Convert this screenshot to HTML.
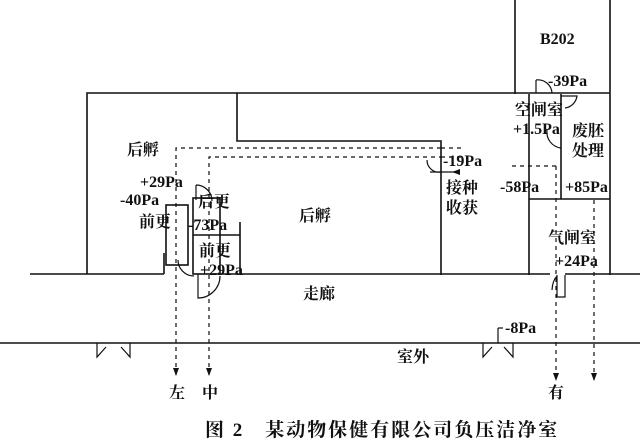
<!DOCTYPE html>
<html><head><meta charset="utf-8"><style>
html,body{margin:0;padding:0;background:#fff;width:640px;height:443px;overflow:hidden}
svg text{font-family:"Liberation Serif","Noto Serif CJK SC",serif;fill:#111;font-weight:bold}
</style></head><body>
<svg width="640" height="443" viewBox="0 0 640 443" xmlns="http://www.w3.org/2000/svg">
<g stroke="#111" stroke-width="1.6" fill="none">
<line x1="515" y1="0" x2="515" y2="94"/>
<line x1="610" y1="0" x2="610" y2="275"/>
<polyline points="87,274 87,93 610,93"/>
<polyline points="237,93 237,141 441,141 441,275"/>
<line x1="529" y1="94" x2="529" y2="275"/>
<line x1="561" y1="94" x2="561" y2="199"/>
<line x1="529" y1="199" x2="610" y2="199"/>
<line x1="30" y1="274" x2="164" y2="274"/>
<line x1="164" y1="274" x2="164" y2="253"/>
<line x1="218" y1="274" x2="550" y2="274"/>
<line x1="565" y1="274" x2="640" y2="274"/>
<rect x="166" y="205" width="22" height="60"/>
<rect x="193" y="198" width="27" height="76"/>
<line x1="193" y1="235" x2="240" y2="235"/>
<line x1="240" y1="222" x2="240" y2="274"/>
<line x1="0" y1="343" x2="640" y2="343"/>
</g>
<g stroke="#111" stroke-width="1.2" fill="none">
<path d="M97 343 V357 L106 347 M130 343 V357 L121 347"/>
<path d="M483 343 V357 L492 347 M513 343 V357 L504 347"/>
<path d="M198 274 V298 A22 22 0 0 0 220 276"/>
<path d="M557 275 V297 H565 V275 M557 276 A10 18 0 0 0 552 290"/>
<path d="M178 260 A16 16 0 0 0 194 276"/>
<path d="M196 185 V200 M196 185 A16 16 0 0 1 212 201"/>
<path d="M427 160 A12 12 0 0 0 441 172"/>
<path d="M536 80 V93 M536 80 A14 14 0 0 1 552 93"/>
<path d="M547 130 A16 16 0 0 0 561 148"/>
<path d="M561 96 H577 A14 14 0 0 1 565 108"/>
<line x1="498" y1="343" x2="498" y2="328"/><line x1="498" y1="328" x2="503" y2="328"/>
</g>
<g stroke="#111" stroke-width="1.2" fill="none" stroke-dasharray="4,4">
<polyline points="176,375 176,148 441,148"/>
<polyline points="209,375 209,157 441,157"/>
<line x1="441" y1="148" x2="465" y2="148"/>
<line x1="441" y1="157" x2="465" y2="157"/>
<line x1="512" y1="166" x2="557" y2="166"/>
<line x1="556" y1="166" x2="556" y2="380"/>
<line x1="594" y1="200" x2="594" y2="380"/>
</g>
<g fill="#111">
<polygon points="173,368 179,368 176,376"/>
<polygon points="206,368 212,368 209,376"/>
<polygon points="553,373 559,373 556,381"/>
<polygon points="591,373 597,373 594,381"/>
<polygon points="452,172 460,169 460,175"/>
</g>
<line x1="430" y1="172" x2="455" y2="172" stroke="#111" stroke-width="1.2"/>
<g font-size="16">
<text x="540" y="44">B202</text>
<text x="548" y="86">-39Pa</text>
<text x="515" y="115">空闸室</text>
<text x="513" y="134">+1.5Pa</text>
<text x="572" y="136">废胚</text>
<text x="572" y="156">处理</text>
<text x="443" y="166">-19Pa</text>
<text x="446" y="193">接种</text>
<text x="446" y="213">收获</text>
<text x="500" y="192">-58Pa</text>
<text x="565" y="192">+85Pa</text>
<text x="548" y="243">气闸室</text>
<text x="555" y="266">+24Pa</text>
<text x="127" y="155">后孵</text>
<text x="140" y="187">+29Pa</text>
<text x="120" y="205">-40Pa</text>
<text x="198" y="207">后更</text>
<text x="139" y="227">前更</text>
<text x="188" y="230">-73Pa</text>
<text x="299" y="221">后孵</text>
<text x="199" y="256">前更</text>
<text x="200" y="275">+29Pa</text>
<text x="303" y="299">走廊</text>
<text x="505" y="333">-8Pa</text>
<text x="397" y="362">室外</text>
<text x="169" y="398">左</text>
<text x="202" y="398">中</text>
<text x="548" y="398">有</text>
</g>
<text x="205" y="436" font-size="19" letter-spacing="2">图 2　某动物保健有限公司负压洁净室</text>
</svg>
</body></html>
